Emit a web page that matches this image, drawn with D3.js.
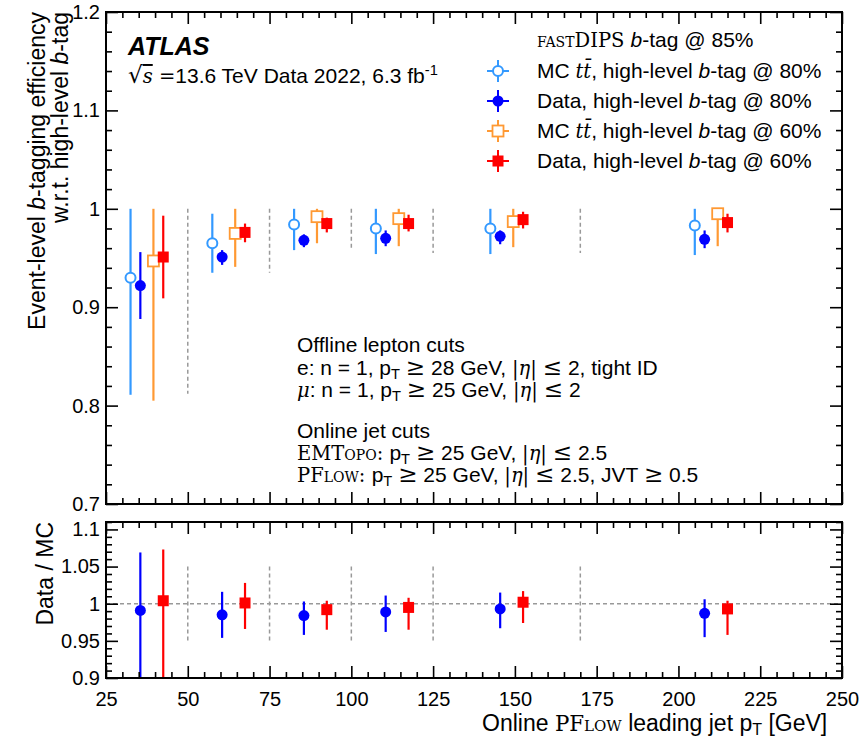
<!DOCTYPE html>
<html>
<head>
<meta charset="utf-8">
<script src="https://cdn.jsdelivr.net/npm/d3@7"></script>
<style>
  body { margin: 0; background: #fff; }
  svg { display: block; font-family: 'Liberation Sans', Arial, sans-serif; }
</style>
</head>
<body>
<svg id="chart" width="863" height="737"></svg>
<script>
// bins in online PFlow leading jet pT [GeV]
var binEdges = [25, 50, 75, 100, 125, 170, 250]
var separators = [50, 75, 100, 125, 170]
var separatorLow = [0.812, 0.935, 0.958, 0.955, 0.955]

var mc80 = [0.930, 0.965, 0.984, 0.980, 0.980, 0.983]
var mc80Lo = [0.811, 0.935, 0.958, 0.954, 0.954, 0.953]
var mc80Hi = [1.0, 0.995, 1.0, 1.0, 1.0, 1.0]
var data80 = [0.922, 0.951, 0.968, 0.970, 0.972, 0.969]
var data80Lo = [0.888, 0.943, 0.961, 0.962, 0.964, 0.960]
var data80Hi = [0.956, 0.958, 0.974, 0.978, 0.978, 0.978]
var mc60 = [0.947, 0.975, 0.992, 0.990, 0.987, 0.995]
var mc60Lo = [0.805, 0.941, 0.965, 0.962, 0.961, 0.962]
var mc60Hi = [1.0, 1.0, 1.0, 1.0, 1.0, 1.0]
var data60 = [0.951, 0.976, 0.985, 0.985, 0.989, 0.986]
var data60Lo = [0.909, 0.966, 0.976, 0.977, 0.980, 0.976]
var data60Hi = [0.993, 0.985, 0.991, 0.994, 0.997, 0.995]

var ratio80 = [0.991, 0.985, 0.984, 0.989, 0.993, 0.987]
var ratio80Lo = [0.85, 0.954, 0.958, 0.962, 0.967, 0.955]
var ratio80Hi = [1.069, 1.016, 1.003, 1.011, 1.015, 1.006]
var ratio60 = [1.004, 1.001, 0.992, 0.995, 1.002, 0.993]
var ratio60Lo = [0.85, 0.966, 0.965, 0.965, 0.974, 0.958]
var ratio60Hi = [1.073, 1.028, 1.004, 1.008, 1.017, 1.004]

var xMajor = [25, 50, 75, 100, 125, 150, 175, 200, 225, 250]
var yMainMajor = [0.7, 0.8, 0.9, 1.0, 1.1, 1.2]
var yMainLabels = ['0.7', '0.8', '0.9', '1', '1.1', '1.2']
var yRatioMajor = [0.9, 0.95, 1.0, 1.05, 1.1]
var yRatioLabels = ['0.9', '0.95', '1', '1.05', '1.1']

var SERIF = "'DejaVu Serif', 'Liberation Serif', serif"
var colors = { mc80: '#3399ff', data80: '#0000ff', mc60: '#ff9933', data60: '#ff0000' }

var series = [
  { vals: mc80, lo: mc80Lo, hi: mc80Hi, off: -5, color: colors.mc80, shape: 'circle', filled: false },
  { vals: data80, lo: data80Lo, hi: data80Hi, off: -2, color: colors.data80, shape: 'circle', filled: true },
  { vals: mc60, lo: mc60Lo, hi: mc60Hi, off: 2, color: colors.mc60, shape: 'square', filled: false },
  { vals: data60, lo: data60Lo, hi: data60Hi, off: 5, color: colors.data60, shape: 'square', filled: true }
]
var ratioSeries = [
  { vals: ratio80, lo: ratio80Lo, hi: ratio80Hi, off: -2, color: colors.data80, shape: 'circle', filled: true },
  { vals: ratio60, lo: ratio60Lo, hi: ratio60Hi, off: 5, color: colors.data60, shape: 'square', filled: true }
]

var binCenters = binEdges.slice(1).map((e, i) => (e + binEdges[i]) / 2)

var svg = d3.select('#chart')
var L = 106, R = 842
var x = d3.scaleLinear([25, 250], [L, R])
var yMain = d3.scaleLinear([0.7, 1.2], [504, 12])
var yRatio = d3.scaleLinear([0.9, 1.11], [678, 522])

var minorVals = (lo, hi, step, majors) =>
  d3.range(Math.round((hi - lo) / step) + 1).map((i) => +(lo + i * step).toFixed(4))
    .filter((v) => !majors.some((m) => Math.abs(m - v) < 1e-6))

var drawFrame = (y, yMajor, yLabels, yMinorStep, showX) => {
  var top = y.range()[1], bottom = y.range()[0]
  var g = svg.append('g')
  var xMinor = minorVals(25, 250, 5, xMajor)
  var yMinor = minorVals(y.domain()[0], y.domain()[1], yMinorStep, yMajor)
    .filter((v) => y(v) >= top - 0.5)
  var big = 12, small = 6
  var add = (axis, tr) => {
    var a = g.append('g').attr('transform', tr).call(axis)
    a.select('.domain').remove()
    a.selectAll('line').attr('stroke', '#000').attr('stroke-width', 1.6)
    a.selectAll('text').attr('font-size', 20).attr('fill', '#000')
      .attr('font-family', "'Liberation Sans', Arial, sans-serif")
    return a
  }
  add(d3.axisBottom(x).tickValues(xMajor).tickSize(-big).tickPadding(14)
      .tickFormat(showX ? d3.format('d') : ''), 'translate(0,' + bottom + ')')
  add(d3.axisBottom(x).tickValues(xMinor).tickSize(-small).tickFormat(''), 'translate(0,' + bottom + ')')
  add(d3.axisTop(x).tickValues(xMajor).tickSize(-big).tickFormat(''), 'translate(0,' + top + ')')
  add(d3.axisTop(x).tickValues(xMinor).tickSize(-small).tickFormat(''), 'translate(0,' + top + ')')
  add(d3.axisLeft(y).tickValues(yMajor).tickSize(-big).tickPadding(6)
      .tickFormat((d, i) => yLabels[i]), 'translate(' + L + ',0)')
  add(d3.axisLeft(y).tickValues(yMinor).tickSize(-small).tickFormat(''), 'translate(' + L + ',0)')
  add(d3.axisRight(y).tickValues(yMajor).tickSize(-big).tickFormat(''), 'translate(' + R + ',0)')
  add(d3.axisRight(y).tickValues(yMinor).tickSize(-small).tickFormat(''), 'translate(' + R + ',0)')
  g.append('rect').attr('x', L).attr('y', top).attr('width', R - L).attr('height', bottom - top)
    .attr('fill', 'none').attr('stroke', '#000').attr('stroke-width', 2)
}

var defs = svg.append('defs')
defs.append('clipPath').attr('id', 'clipMain').append('rect')
  .attr('x', L).attr('y', 12).attr('width', R - L).attr('height', 492)
defs.append('clipPath').attr('id', 'clipRatio').append('rect')
  .attr('x', L).attr('y', 522).attr('width', R - L).attr('height', 156)

var marker = (g, cx, cy, s) => {
  if (s.shape == 'circle')
    g.append('circle').attr('cx', cx).attr('cy', cy).attr('r', s.filled ? 5.5 : 5)
      .attr('fill', s.filled ? s.color : '#fff').attr('stroke', s.color).attr('stroke-width', s.filled ? 0 : 2)
  else
    g.append('rect').attr('x', cx - 5.5).attr('y', cy - 5.5).attr('width', 11).attr('height', 11)
      .attr('fill', s.filled ? s.color : '#fff').attr('stroke', s.color).attr('stroke-width', s.filled ? 0 : 1.8)
}

var drawPoints = (y, list, clip) => {
  var g = svg.append('g').attr('clip-path', 'url(#' + clip + ')')
  list.forEach((s) => {
    s.vals.forEach((v, i) => {
      var cx = x(binCenters[i] + s.off)
      g.append('line').attr('x1', cx).attr('x2', cx).attr('y1', y(s.lo[i])).attr('y2', y(s.hi[i]))
        .attr('stroke', s.color).attr('stroke-width', 2.2)
      marker(g, cx, y(v), s)
    })
  })
}

var dashed = (g, x1, y1, x2, y2) =>
  g.append('line').attr('x1', x1).attr('y1', y1).attr('x2', x2).attr('y2', y2)
    .attr('stroke', '#999').attr('stroke-width', 1.5).attr('stroke-dasharray', '4,3')

// main panel
var gSep = svg.append('g')
separators.forEach((s, i) => dashed(gSep, x(s), yMain(1.0), x(s), yMain(separatorLow[i])))
drawPoints(yMain, series, 'clipMain')
drawFrame(yMain, yMainMajor, yMainLabels, 0.02, false)

// ratio panel
var gSepR = svg.append('g')
dashed(gSepR, L, yRatio(1.0), R, yRatio(1.0))
separators.forEach((s) => dashed(gSepR, x(s), yRatio(1.05), x(s), yRatio(0.95)))
drawPoints(yRatio, ratioSeries, 'clipRatio')
drawFrame(yRatio, yRatioMajor, yRatioLabels, 0.01, true)

// rich text: segments {t, serif, it, sc, sub, sup, ol, bold}
var rich = (parent, px, py, size, segs, anchor) => {
  var t = parent.append('text').attr('x', px).attr('y', py).attr('font-size', size).attr('fill', '#000')
    .attr('text-anchor', anchor || 'start')
  var shift = 0
  segs.forEach((s) => {
    if (typeof s == 'string') s = { t: s }
    var sp = t.append('tspan').text(s.t)
    var want = s.sub ? 4 : s.sup ? -8 : 0
    if (want != shift) { sp.attr('dy', want - shift); shift = want }
    var fs = size
    if (s.serif) { sp.attr('font-family', SERIF); fs = size * 0.93 }
    if (s.sub || s.sup) fs = size * 0.7
    if (s.big) fs = size * 1.1
    if (fs != size) sp.attr('font-size', fs)
    if (s.it) sp.attr('font-style', 'italic')
    if (s.sc) sp.attr('font-variant', 'small-caps')
    if (s.ol) sp.attr('text-decoration', 'overline')
    if (s.bold) sp.attr('font-weight', 'bold')
  })
  return t
}

rich(svg, 128, 55, 25, [{ t: 'ATLAS', it: true, bold: true }])
rich(svg, 128, 83, 21, [{ t: '\u221A', serif: true, big: true }, { t: 's', serif: true, it: true, ol: true },
  { t: ' =', serif: true }, '13.6 TeV Data 2022, 6.3 fb', { t: '-1', sup: true }])

// legend
var lx = 498, tx = 537
rich(svg, tx, 47, 21, [{ t: 'fast', serif: true, sc: true }, { t: 'DIPS ', serif: true },
  { t: 'b', it: true }, '-tag @ 85%'])
var ttbar = { t: 'tt\u0304', serif: true, it: true }
var legendRows = [
  { s: series[0], segs: ['MC ', ttbar, ', high-level ', { t: 'b', it: true }, '-tag @ 80%'] },
  { s: series[1], segs: ['Data, high-level ', { t: 'b', it: true }, '-tag @ 80%'] },
  { s: series[2], segs: ['MC ', ttbar, ', high-level ', { t: 'b', it: true }, '-tag @ 60%'] },
  { s: series[3], segs: ['Data, high-level ', { t: 'b', it: true }, '-tag @ 60%'] }
]
var gLeg = svg.append('g')
legendRows.forEach((row, i) => {
  var by = 78 + i * 30, cy = by - 7
  gLeg.append('line').attr('x1', lx - 11).attr('x2', lx + 11).attr('y1', cy).attr('y2', cy)
    .attr('stroke', row.s.color).attr('stroke-width', 2)
  gLeg.append('line').attr('x1', lx).attr('x2', lx).attr('y1', cy - 11).attr('y2', cy + 11)
    .attr('stroke', row.s.color).attr('stroke-width', 2)
  marker(gLeg, lx, cy, row.s)
  rich(gLeg, tx, by, 21, row.segs)
})

// cut annotations
var ax = 297
var le = { t: '\u2264', serif: true, big: true }, ge = { t: '\u2265', serif: true, big: true }
var eta = [{ t: '|', serif: true }, { t: '\u03B7', serif: true, it: true }, { t: '|', serif: true }]
var pT = ['p', { t: 'T', sub: true }]
rich(svg, ax, 352, 21, ['Offline lepton cuts'])
rich(svg, ax, 375, 21, ['e: n = 1, '].concat(pT, [' ', ge, ' 28 GeV, '], eta, [' ', le, ' 2, tight ID']))
rich(svg, ax, 397, 21, [{ t: '\u03BC', serif: true, it: true }, ': n = 1, '].concat(pT, [' ', ge, ' 25 GeV, '], eta, [' ', le, ' 2']))
rich(svg, ax, 438, 21, ['Online jet cuts'])
rich(svg, ax, 460, 21, [{ t: 'EMT', serif: true }, { t: 'opo', serif: true, sc: true }, { t: ': ', serif: true }]
  .concat(pT, [' ', ge, ' 25 GeV, '], eta, [' ', le, ' 2.5']))
rich(svg, ax, 482, 21, [{ t: 'PF', serif: true }, { t: 'low', serif: true, sc: true }, { t: ': ', serif: true }]
  .concat(pT, [' ', ge, ' 25 GeV, '], eta, [' ', le, ' 2.5, JVT ', ge, ' 0.5']))

// axis titles
rich(svg, 482, 731, 23, ['Online ', { t: 'PF', serif: true }, { t: 'low', serif: true, sc: true },
  ' leading jet p', { t: 'T', sub: true }, ' [GeV]'])
var yt = svg.append('g').attr('transform', 'translate(45,12) rotate(-90)')
rich(yt, 0, 0, 23, ['Event-level ', { t: 'b', it: true }, '-tagging efficiency'], 'end')
rich(yt, 0, 23, 23, ['w.r.t. high-level ', { t: 'b', it: true }, '-tag'], 'end')
var yr = svg.append('g').attr('transform', 'translate(53,522) rotate(-90)')
rich(yr, 0, 0, 23, ['Data / MC'], 'end')
</script>
</body>
</html>
